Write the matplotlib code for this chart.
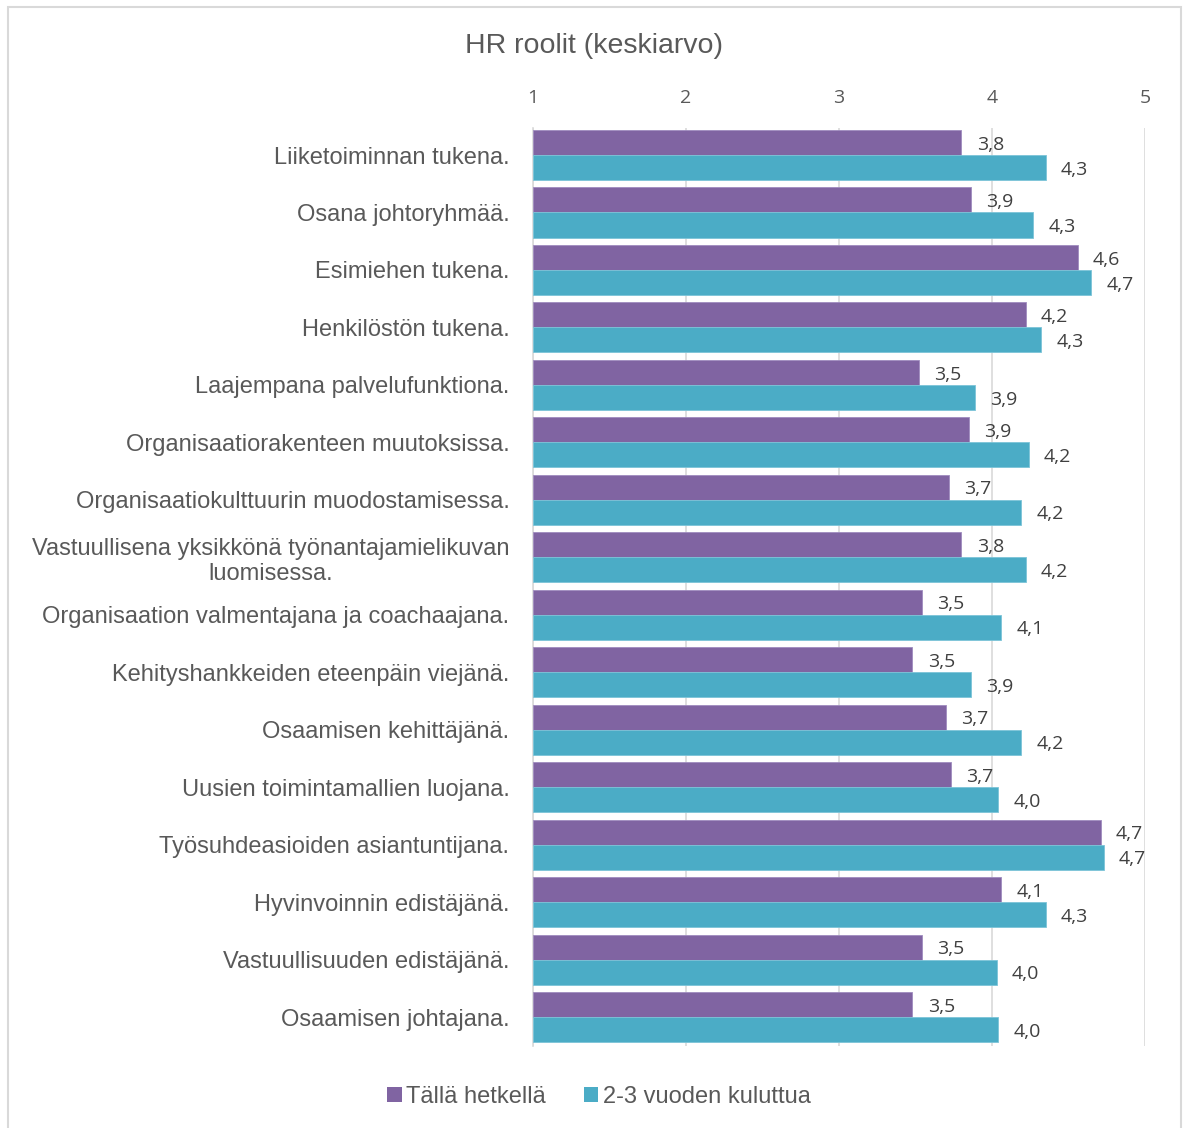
import matplotlib
matplotlib.use("Agg")
import matplotlib.pyplot as plt
from matplotlib.patches import Rectangle
import numpy as np

categories = [
    "Liiketoiminnan tukena.",
    "Osana johtoryhmää.",
    "Esimiehen tukena.",
    "Henkilöstön tukena.",
    "Laajempana palvelufunktiona.",
    "Organisaatiorakenteen muutoksissa.",
    "Organisaatiokulttuurin muodostamisessa.",
    "Vastuullisena yksikkönä työnantajamielikuvan\nluomisessa.",
    "Organisaation valmentajana ja coachaajana.",
    "Kehityshankkeiden eteenpäin viejänä.",
    "Osaamisen kehittäjänä.",
    "Uusien toimintamallien luojana.",
    "Työsuhdeasioiden asiantuntijana.",
    "Hyvinvoinnin edistäjänä.",
    "Vastuullisuuden edistäjänä.",
    "Osaamisen johtajana.",
]
now_values = [3.80, 3.86, 4.56, 4.22, 3.52, 3.85, 3.72, 3.80, 3.54, 3.48, 3.70, 3.73, 4.71, 4.06, 3.54, 3.48]
future_values = [4.35, 4.27, 4.65, 4.32, 3.89, 4.24, 4.19, 4.22, 4.06, 3.86, 4.19, 4.04, 4.73, 4.35, 4.03, 4.04]
series_names = ["Tällä hetkellä", "2-3 vuoden kuluttua"]
x_ticks = [1, 2, 3, 4, 5]

purple = "#8064A2"
teal = "#4BACC6"
text_c = "#595959"
label_c = "#404040"

W, H = 1186, 1128
fig = plt.figure(figsize=(W / 100, H / 100), dpi=100)

# chart frame
fig.patches.append(Rectangle((8 / W, -0.01), (1181 - 8) / W, 1.01 - 7 / H,
                             transform=fig.transFigure, fill=False,
                             edgecolor="#D9D9D9", linewidth=1.5))

left, right, top, bottom = 533, 1145, 128, 1046
ax = fig.add_axes([left / W, 1 - bottom / H, (right - left) / W, (bottom - top) / H])

n = len(categories)
y = np.arange(n)
h = 0.435
ax.barh(y - h / 2, [v - 1 for v in now_values], left=1, height=h, color=purple,
        edgecolor="#9F8BBF", linewidth=0.6, label=series_names[0], zorder=3)
ax.barh(y + h / 2, [v - 1 for v in future_values], left=1, height=h, color=teal,
        edgecolor="#7CC4D8", linewidth=0.6, label=series_names[1], zorder=3)

for i in range(n):
    ax.annotate(f"{now_values[i]:.1f}".replace(".", ","), (now_values[i], y[i] - h / 2),
                xytext=(11, -1.5), textcoords="offset points", va="center", ha="left",
                fontsize=14, color=label_c, family="Open Sans", zorder=4)
    ax.annotate(f"{future_values[i]:.1f}".replace(".", ","), (future_values[i], y[i] + h / 2),
                xytext=(11, -1.5), textcoords="offset points", va="center", ha="left",
                fontsize=14, color=label_c, family="Open Sans", zorder=4)

ax.set_xlim(1, 5)
ax.set_ylim(n - 0.5, -0.47)
ax.set_xticks(x_ticks)
ax.set_xticklabels([str(t) for t in x_ticks], fontsize=14, color=text_c, family="Open Sans")
ax.xaxis.tick_top()
ax.tick_params(axis="x", length=0, pad=15)
ax.set_yticks(y)
ax.set_yticklabels(categories, fontsize=17, color=text_c, family="Liberation Sans",
                   ha="right", multialignment="center")
ax.tick_params(axis="y", length=0, pad=17)
ax.grid(axis="x", color="#D9D9D9", linewidth=1.2, zorder=0)
for s in ["top", "right", "bottom"]:
    ax.spines[s].set_visible(False)
ax.spines["left"].set_color("#D9D9D9")
ax.spines["left"].set_linewidth(1.2)

fig.text(594 / W, 1 - 46 / H, "HR roolit (keskiarvo)", ha="center", va="center",
         fontsize=20.5, color=text_c, family="Liberation Sans")

leg = fig.legend(loc="center", bbox_to_anchor=(599 / W, 1 - 1097 / H), ncol=2, frameon=False,
                 prop={"family": "Liberation Sans", "size": 17}, handlelength=0.6,
                 handleheight=0.6, handletextpad=0.2, columnspacing=1.6, labelcolor=text_c)
for p in leg.get_patches():
    p.set_edgecolor("none")

fig.savefig("out.png", dpi=100)
